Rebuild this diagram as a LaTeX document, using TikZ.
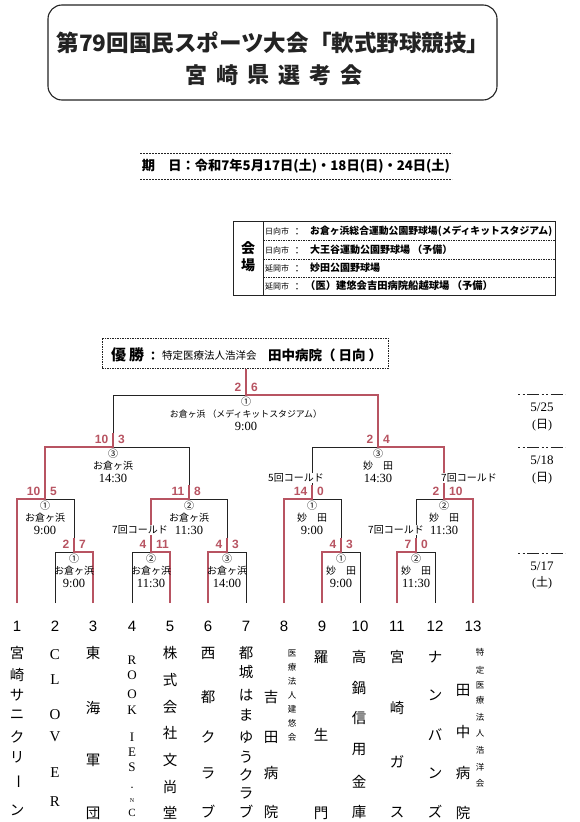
\documentclass[tikz,border=0pt]{standalone}
\usepackage{fontspec}
\usepackage{graphicx}
\setmainfont{Liberation Serif}
\newfontfamily\jp{Noto Sans CJK JP}
\newfontfamily\lsans{Liberation Sans}
\definecolor{win}{RGB}{184,84,98}
\definecolor{ink}{RGB}{35,35,35}
\newcommand\fs[1]{\fontsize{#1}{#1}\selectfont}
\newcommand\mlab[8]{%
 \node[sc,anchor=base east] (#1-l) at (#2-4.5,#3-3.5) {#4};
 \node[sc,anchor=base west] (#1-r) at (#2+5,#3-3.5) {#5};
 \node[circ] (#1-c) at (#2,#3+6.5) {#6};
 \node[ven] (#1-v) at (#2,#3+19) {#7};
 \node[tim] (#1-t) at (#2,#3+31) {#8};
}
\newcommand\vtext[4]{%
 \foreach \yy/\ch [count=\k] in {#4} \node[#3] (#1-\k) at (#2,\yy) {\ch};
}
\begin{document}
\begin{tikzpicture}[x=1pt,y=-1pt,
  bl/.style={draw=ink,line width=0.9pt},
  rd/.style={draw=win,line width=2.6pt,line join=miter},
  sc/.style={font=\lsans\bfseries\fs{12},text=win,inner sep=0pt},
  circ/.style={font=\jp\fs{10},inner sep=0pt},
  ven/.style={font=\jp\fs{10},inner sep=0pt},
  tim/.style={font=\fs{12.5},inner sep=0pt},
  note/.style={font=\jp\fs{10},fill=white,inner sep=1pt},
  tn/.style={font=\jp\fs{14.5},inner sep=0pt},
  tl/.style={font=\fs{15},inner sep=0pt},
  tk/.style={font=\fs{13},inner sep=0pt},
  tnum/.style={font=\lsans\fs{15},inner sep=0pt},
  sm/.style={font=\jp\fs{8.5},inner sep=0pt},
]
\useasboundingbox[fill=white] (0,0) rectangle (580,822);

% ---------- title ----------
\draw[ink,line width=1.1pt,rounded corners=14pt] (48,5) rectangle (497,100);
\node[font=\jp\bfseries\fs{23},inner sep=0pt,text=ink] (title1) at (273,43)
  {\resizebox{433pt}{!}{第79回国民スポーツ大会「軟式野球競技」}};
\foreach \c [count=\i from 0] in {宮,崎,県,選,考,会}
  \node[font=\jp\bfseries\fs{22},inner sep=0pt,text=ink] (title2-\i) at (196+31*\i,75) {\c};

% ---------- date ----------
\draw[ink,line width=0.8pt,dash pattern=on 2pt off 1pt] (140,153) -- (452,153);
\draw[ink,line width=0.8pt,dash pattern=on 2pt off 1pt] (140,179) -- (452,179);
\node[font=\jp\bfseries\fs{14},inner sep=0pt] (date) at (296,166)
  {\resizebox{308pt}{!}{期　日：令和7年5月17日(土)・18日(日)・24日(土)}};

% ---------- venue box ----------
\draw[ink,line width=0.9pt] (233,221) rectangle (555,295);
\draw[ink,line width=0.9pt] (263,221) -- (263,295);
\foreach \yy in {240.5,259,277}
  \draw[ink,line width=0.6pt,dash pattern=on 1.5pt off 1pt] (263,\yy) -- (555,\yy);
\node[font=\jp\bfseries\fs{14},inner sep=0pt] (kai) at (248,248) {会};
\node[font=\jp\bfseries\fs{14},inner sep=0pt] (jo) at (248,265) {場};
\foreach \yy/\city [count=\k] in {231/日向市,250/日向市,268/延岡市,286/延岡市} {
  \node[font=\jp\fs{8},inner sep=0pt,anchor=west] (city\k) at (265,\yy) {\city};
  \node[font=\jp\fs{10},inner sep=0pt] (colon\k) at (297,\yy+1) {：};
}
\node[font=\jp\bfseries\fs{10},inner sep=0pt,anchor=west] (v1) at (310,231)
  {\resizebox{242pt}{!}{お倉ヶ浜総合運動公園野球場(メディキットスタジアム)}};
\node[font=\jp\bfseries\fs{10},inner sep=0pt,anchor=west] (v2) at (310,250) {大王谷運動公園野球場\ （予備）};
\node[font=\jp\bfseries\fs{10},inner sep=0pt,anchor=west] (v3) at (310,268) {妙田公園野球場};
\node[font=\jp\bfseries\fs{10.3},inner sep=0pt,anchor=west] (v4) at (305,286) {（医）建悠会吉田病院船越球場\ （予備）};

% ---------- champion box ----------
\node[draw=ink,line width=1pt,dash pattern=on 1.5pt off 1pt,minimum width=286pt,minimum height=30pt,inner sep=0pt] (champ) at (245,353) {};
\node[font=\jp\bfseries\fs{15},inner sep=0pt,anchor=west] (yusho) at (111,355) {優\hspace{3pt}勝};
\node[font=\jp\bfseries\fs{12},inner sep=0pt] (colonw) at (153,356) {：};
\node[font=\jp\fs{10.5},inner sep=0pt,anchor=west] (hojin) at (162,356) {特定医療法人浩洋会};
\node[font=\jp\bfseries\fs{13.5},inner sep=0pt,anchor=west] (tanaka) at (268,355) {田中病院（\hspace{3pt}日向\hspace{3pt}）};

% ---------- team anchors ----------
\foreach \xx [count=\k] in {17,55,93,132,170,208,246,284,322,360,397,435,473}
  \coordinate (T\k) at (\xx,603);

% ---------- bracket (black base) ----------
\draw[bl] (T1)--(17,499)--(74,499)--(74,552);
\draw[bl] (T2)--(55,552)--(93,552)--(T3);
\draw[bl] (T4)--(132,552)--(170,552)--(T5);
\draw[bl] (T6)--(208,552)--(246,552)--(T7);
\draw[bl] (151,552)--(151,499)--(227,499)--(227,552);
\draw[bl] (45,499)--(45,447)--(189,447)--(189,499);
\draw[bl] (113,447)--(113,395)--(378,395)--(378,447);
\draw[bl] (246,395)--(champ.south -| 246,0);
\draw[bl] (T9)--(322,552)--(360,552)--(T10);
\draw[bl] (T11)--(397,552)--(435,552)--(T12);
\draw[bl] (T8)--(284,499)--(341,499)--(341,552);
\draw[bl] (416,552)--(416,499)--(473,499)--(T13);
\draw[bl] (312,499)--(312,447)--(444,447)--(444,499);

% ---------- winner paths (red) ----------
\draw[rd] (T1)--(17,499)--(45,499)--(45,447)--(113,447)--(113,433);
\draw[rd] (T3)--(93,552)--(74,552)--(74,538);
\draw[rd] (T5)--(170,552)--(151,552)--(151,499)--(189,499)--(189,485);
\draw[rd] (T6)--(208,552)--(227,552)--(227,538);
\draw[rd] (T8)--(284,499)--(312,499)--(312,485);
\draw[rd] (T9)--(322,552)--(341,552)--(341,538);
\draw[rd] (T11)--(397,552)--(416,552)--(416,538);
\draw[rd] (T13)--(473,499)--(444,499)--(444,447)--(378,447)--(378,395)--(246,395)--(champ.south -| 246,0);

% ---------- match labels ----------
\mlab{F}{246}{395}{2}{6}{①}{\resizebox{152pt}{!}{お倉ヶ浜\ （メディキットスタジアム）}}{9:00}
\mlab{S3a}{113}{447}{10}{3}{③}{お倉ヶ浜}{14:30}
\mlab{S3b}{378}{447}{2}{4}{③}{妙　田}{14:30}
\mlab{S2a}{45}{499}{10}{5}{①}{お倉ヶ浜}{9:00}
\mlab{S2b}{189}{499}{11}{8}{②}{お倉ヶ浜}{11:30}
\mlab{S2c}{312}{499}{14}{0}{①}{妙　田}{9:00}
\mlab{S2d}{444}{499}{2}{10}{②}{妙　田}{11:30}
\mlab{S1a}{74}{552}{2}{7}{①}{お倉ヶ浜}{9:00}
\mlab{S1b}{151}{552}{4}{11}{②}{お倉ヶ浜}{11:30}
\mlab{S1c}{227}{552}{4}{3}{③}{お倉ヶ浜}{14:00}
\mlab{S1d}{341}{552}{4}{3}{①}{妙　田}{9:00}
\mlab{S1e}{416}{552}{7}{0}{②}{妙　田}{11:30}

% ---------- notes ----------
\node[note] (n1) at (140,530) {7回コールド};
\node[note] (n2) at (296,478) {5回コールド};
\node[note,anchor=west] (n3) at (440,478) {7回コールド};
\node[note] (n4) at (396,530) {7回コールド};

% ---------- date column ----------
\foreach \yy [count=\k] in {394,447,553}
  \draw[ink,line width=1pt,dash pattern=on 2pt off 2.5pt on 2pt off 2.5pt on 12pt off 2.5pt] (518,\yy) -- (565,\yy);
\node[font=\fs{13},inner sep=0pt] (d1) at (542,407) {5/25};
\node[font=\fs{12},inner sep=0pt] (d1w) at (542,425) {({\jp 日})};
\node[font=\fs{13},inner sep=0pt] (d2) at (542,460) {5/18};
\node[font=\fs{12},inner sep=0pt] (d2w) at (542,478) {({\jp 日})};
\node[font=\fs{13},inner sep=0pt] (d3) at (542,566) {5/17};
\node[font=\fs{12},inner sep=0pt] (d3w) at (542,583) {({\jp 土})};

% ---------- team numbers ----------
\foreach \xx [count=\k] in {17,55,93,132,170,208,246,284,322,360,397,435,473}
  \node[tnum] (num\k) at (\xx,626) {\k};

% ---------- team names ----------
\vtext{a1}{17}{tn}{653/宮,675/崎,695/サ,715/ニ,737/ク,757/リ,810/ン}
\node[tn,rotate=-90] (a1x) at (17,782) {ー};
\vtext{a2}{55}{tl}{655/C,680/L,715/O,737/V,773/E,802/R}
\vtext{a3}{93}{tn}{653/東,708/海,760/軍,813/団}
\vtext{a4}{132}{tk}{660/R,675/O,694/O,710/K,737/I,752/E,767/S}
\node[font=\jp\fs{7},inner sep=0pt] (a4d) at (132,789) {・};
\node[font=\fs{6},inner sep=0pt] (a4n) at (132,801) {N};
\node[font=\fs{11},inner sep=0pt] (a4c) at (132,813) {C};
\vtext{a5}{170}{tn}{653/株,680/式,707/会,733/社,760/文,787/尚,813/堂}
\vtext{a6}{208}{tn}{653/西,697/都,737/ク,773/ラ,812/ブ}
\vtext{a7}{246}{tn}{653/都,672/城,695/は,715/ま,737/ゆ,757/う,775/ク,793/ラ,812/ブ}
\vtext{a8}{271}{tn}{697/吉,737/田,773/病,812/院}
\vtext{a8s}{292}{sm}{653/医,667/療,681/法,695/人,709/建,723/悠,737/会}
\vtext{a9}{321}{tn}{657/羅,735/生,813/門}
\vtext{a10}{359}{tn}{657/高,688/鍋,718/信,750/用,782/金,812/庫}
\vtext{a11}{397}{tn}{657/宮,708/崎,762/ガ,813/ス}
\vtext{a12}{435}{tn}{657/ナ,695/ン,735/バ,773/ン,812/ズ}
\vtext{a13}{463}{tn}{690/田,732/中,773/病,813/院}
\vtext{a13s}{480}{sm}{652/特,670/定,685/医,700/療,717/法,733/人,750/浩,767/洋,783/会}
\end{tikzpicture}
\end{document}
